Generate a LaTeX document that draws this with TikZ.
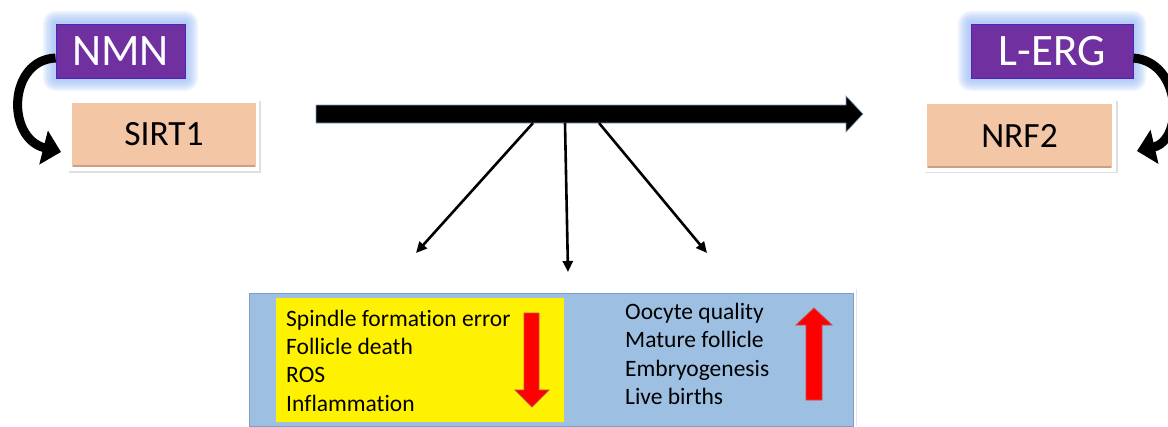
\documentclass[tikz,border=0pt]{standalone}
\usepackage{fontspec}
\setmainfont{Carlito}[Ligatures={NoCommon}]
\usetikzlibrary{arrows.meta}
\definecolor{purp}{HTML}{7030A0}
\definecolor{peach}{HTML}{F3C6A6}
\definecolor{peachdark}{HTML}{C9A086}
\definecolor{glowc}{HTML}{8FB4F2}
\definecolor{boxblue}{HTML}{9DC0E2}
\definecolor{boxblueedge}{HTML}{7F9FC2}
\definecolor{redarrow}{HTML}{FF0000}
\definecolor{rededge}{HTML}{C0504D}
\tikzset{
  purpbox/.style={fill=purp, draw=purp!70!blue, line width=0.8pt, text=white,
    minimum height=54pt, inner sep=0pt, font=\fontsize{45}{50}\selectfont},
  peachbox/.style={fill=peach, minimum height=64pt, inner sep=0pt,
    font=\fontsize{35.5}{40}\selectfont},
  curvearrow/.style={line width=9pt, -{Triangle[length=18pt,width=34pt]}},
  thinarrow/.style={line width=2.6pt, -{Triangle[length=11pt,width=10pt]}},
  listtext/.style={align=left, inner sep=0pt, anchor=west,
    font=\fontsize{23.5}{28.3}\selectfont},
  redblock/.style={fill=redarrow, draw=rededge, line width=0.8pt, line join=miter}
}
\begin{document}
\begin{tikzpicture}[x=1pt,y=-1pt]
\useasboundingbox (0,0) rectangle (1168,426);

% glows behind purple boxes
\foreach \g in {13,11,9,7,5,3} {
  \fill[glowc, opacity=0.16, rounded corners=\g pt] (56-\g,24-\g) rectangle (185+\g,78+\g);
  \fill[glowc, opacity=0.16, rounded corners=\g pt] (971-\g,24-\g) rectangle (1133+\g,78+\g);
}

% purple boxes
\node[purpbox, minimum width=129pt] (nmn) at (120.5,51) {NMN};
\node[purpbox, minimum width=162pt] (lerg) at (1052,51) {L-ERG};

% peach boxes with white frame and shadow
\fill[black, opacity=0.12] (69,101) rectangle (261,173);
\fill[white] (68,99) rectangle (259,171);
\node[peachbox, minimum width=184pt] (sirt) at (164,134.5) {SIRT1};
\draw[peachdark, line width=2pt] (73,166) -- (255,166);

\fill[black, opacity=0.12] (925,101) rectangle (1118,173);
\fill[white] (924,100) rectangle (1116,172);
\node[peachbox, minimum width=185pt] (nrf) at (1019.5,135.5) {NRF2};
\draw[peachdark, line width=2pt] (928,167) -- (1111,167);

% curved arrows
\draw[curvearrow] ([yshift=-7pt]nmn.west) .. controls (8,60) and (6,138) .. (61,152);
\draw[curvearrow] ([yshift=-7pt]lerg.east) .. controls (1182,62) and (1184,140) .. (1137,151);

% main arrow
\fill[black, draw=boxblueedge, line width=0.6pt]
  (316,105) -- (846,105) -- (846,96) -- (863,114) -- (846,132) -- (846,123) -- (316,123) -- cycle;

% thin arrows
\coordinate (s1) at (533,123);
\coordinate (s2) at (565,123);
\coordinate (s3) at (599,123);
\coordinate (e1) at (416,253);
\coordinate (e2) at (568,272);
\coordinate (e3) at (707,253);
\draw[thinarrow] (s1) -- (e1);
\draw[thinarrow] (s2) -- (e2);
\draw[thinarrow] (s3) -- (e3);

% bottom box
\fill[black, opacity=0.10] (246,289) rectangle (857,426);
\fill[white] (246,289) rectangle (856,426);
\node[fill=boxblue, draw=boxblueedge, line width=1pt, minimum width=604pt,
  minimum height=133pt, inner sep=0pt] (effects) at (551,359.5) {};
\node[fill=yellow, minimum width=288pt, minimum height=124pt, inner sep=0pt]
  (down) at (420,360) {};

\node[listtext] (downlist) at (286,360.5)
  {Spindle formation error\\Follicle death\\ROS\\Inflammation};
\node[listtext] (uplist) at (625,354)
  {Oocyte quality\\Mature follicle\\Embryogenesis\\Live births};

% red block arrows
\path[redblock] (524,313) -- (539,313) -- (539,390) -- (549,390) -- (532,407)
  -- (515,390) -- (524,390) -- cycle;
\path[redblock] (806,400) -- (822,400) -- (822,325) -- (832,325) -- (814,308)
  -- (796,325) -- (806,325) -- cycle;
\end{tikzpicture}
\end{document}
